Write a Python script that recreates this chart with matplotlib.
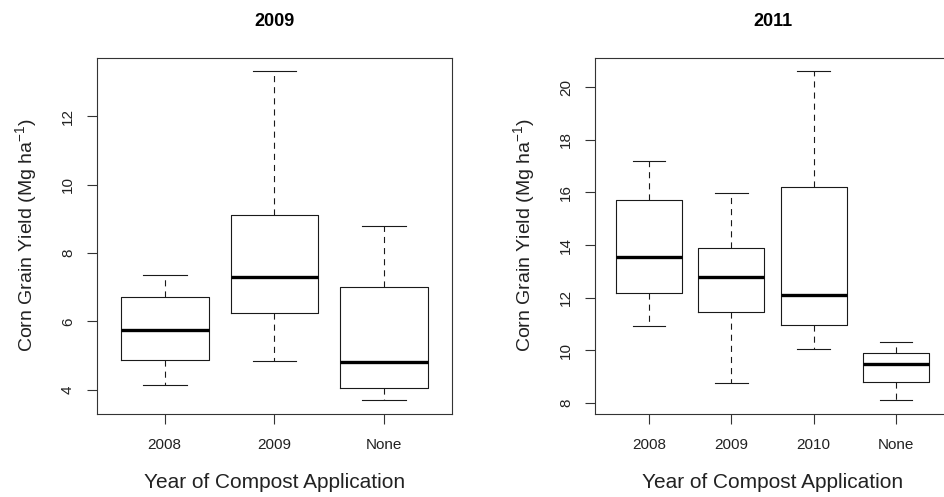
import matplotlib
matplotlib.use("Agg")
import matplotlib.pyplot as plt

plt.rcParams['font.family'] = ['Liberation Sans', 'DejaVu Sans']
plt.rcParams['mathtext.fontset'] = 'custom'
plt.rcParams['mathtext.rm'] = 'Liberation Sans'
plt.rcParams['mathtext.it'] = 'Liberation Sans:italic'
plt.rcParams['mathtext.bf'] = 'Liberation Sans:bold'

# box stats: low whisker, Q1, median, Q3, high whisker
groups_2009 = ["2008", "2009", "None"]
low_2009 = [4.15, 4.85, 3.69]
q1_2009 = [4.86, 6.24, 4.04]
med_2009 = [5.76, 7.29, 4.80]
q3_2009 = [6.71, 9.10, 7.00]
high_2009 = [7.35, 13.33, 8.80]

groups_2011 = ["2008", "2009", "2010", "None"]
low_2011 = [10.94, 8.76, 10.05, 8.10]
q1_2011 = [12.18, 11.44, 10.97, 8.81]
med_2011 = [13.56, 12.77, 12.11, 9.49]
q3_2011 = [15.73, 13.87, 16.19, 9.91]
high_2011 = [17.20, 15.99, 20.62, 10.32]

yticks_2009 = [4, 6, 8, 10, 12]
yticks_2011 = [8, 10, 12, 14, 16, 18, 20]

LINE = '#1a1a1a'


def r_boxplot(ax, title, groups, low, q1, med, q3, high, yticks):
    stats = []
    for g, a, b, c, d, e in zip(groups, low, q1, med, q3, high):
        stats.append(dict(label=g, whislo=a, q1=b, med=c, q3=d, whishi=e, fliers=[]))
    n = len(groups)
    pos = list(range(1, n + 1))
    ax.bxp(stats, positions=pos, widths=0.8, capwidths=0.4,
           boxprops=dict(color=LINE, lw=0.8),
           whiskerprops=dict(color=LINE, lw=0.8, linestyle=(0, (5.5, 4.5))),
           capprops=dict(color=LINE, lw=0.8),
           medianprops=dict(color='black', lw=2.4, solid_capstyle='butt'),
           showfliers=False)
    # R style 4% padding
    ax.set_xlim(0.5 - 0.04 * n, n + 0.5 + 0.04 * n)
    lo, hi = min(low), max(high)
    span = hi - lo
    ax.set_ylim(lo - 0.04 * span, hi + 0.04 * span)
    ax.set_xticks(pos)
    ax.set_xticklabels(groups)
    ax.set_yticks(yticks)
    ax.set_yticklabels([str(t) for t in yticks], rotation=90, va='center')
    for s in ax.spines.values():
        s.set_linewidth(0.8)
        s.set_color('#333333')
    ax.tick_params(direction='out', length=7.5, width=0.8, color='#333333',
                   labelsize=11, labelcolor='#222222')
    ax.tick_params(axis='x', pad=10)
    ax.tick_params(axis='y', pad=8)
    ax.set_title(title, fontsize=13, fontweight='bold', pad=23)
    ax.set_xlabel("Year of Compost Application", fontsize=15, labelpad=15,
                  color='#222222')
    ax.set_ylabel(r"Corn Grain Yield (Mg ha$^{-1}$)", fontsize=14, labelpad=16,
                  color='#222222')


fig = plt.figure(figsize=(9.45, 4.97), dpi=100)
ax1 = fig.add_axes([0.1022, 0.168, 0.3765, 0.716])
ax2 = fig.add_axes([0.6293, 0.168, 0.3763, 0.716])

r_boxplot(ax1, "2009", groups_2009, low_2009, q1_2009, med_2009, q3_2009, high_2009, yticks_2009)
r_boxplot(ax2, "2011", groups_2011, low_2011, q1_2011, med_2011, q3_2011, high_2011, yticks_2011)

fig.savefig("out.png", dpi=100)
